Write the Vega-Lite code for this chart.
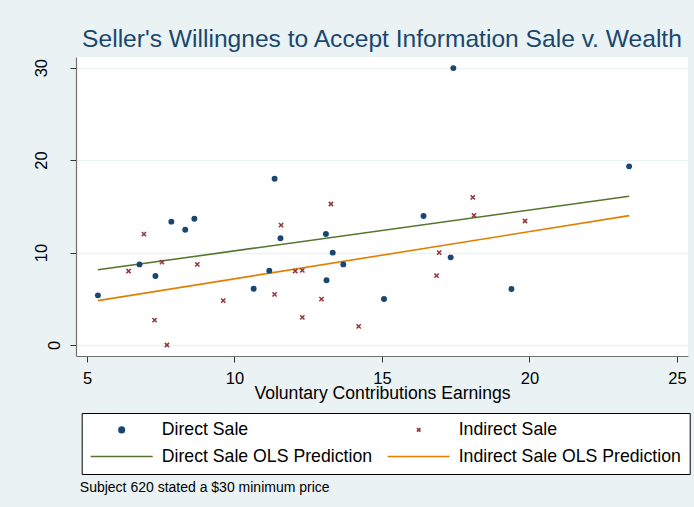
{
  "$schema": "https://vega.github.io/schema/vega-lite/v6.json",
  "width": 612,
  "height": 299,
  "autosize": {"type": "none"},
  "padding": {"left": 76, "top": 57, "right": 6, "bottom": 151},
  "background": "#eaf2f3",
  "view": {"fill": "white", "stroke": null},
  "title": {
    "text": "Seller's Willingnes to Accept Information Sale v. Wealth",
    "anchor": "middle",
    "frame": "group",
    "offset": 4,
    "font": "Liberation Sans",
    "fontSize": 24.6,
    "fontWeight": "normal",
    "color": "#1a476f"
  },
  "datasets": {
    "direct": [
      {"series": "Direct Sale", "x": 5.37, "y": 5.37},
      {"series": "Direct Sale", "x": 6.78, "y": 8.72},
      {"series": "Direct Sale", "x": 7.32, "y": 7.46},
      {"series": "Direct Sale", "x": 7.86, "y": 13.34},
      {"series": "Direct Sale", "x": 8.33, "y": 12.47},
      {"series": "Direct Sale", "x": 8.64, "y": 13.66},
      {"series": "Direct Sale", "x": 10.65, "y": 6.09},
      {"series": "Direct Sale", "x": 11.18, "y": 8.04},
      {"series": "Direct Sale", "x": 11.36, "y": 17.99},
      {"series": "Direct Sale", "x": 11.56, "y": 11.54},
      {"series": "Direct Sale", "x": 13.10, "y": 12.0},
      {"series": "Direct Sale", "x": 13.12, "y": 7.0},
      {"series": "Direct Sale", "x": 13.33, "y": 9.99},
      {"series": "Direct Sale", "x": 13.69, "y": 8.72},
      {"series": "Direct Sale", "x": 15.07, "y": 4.97},
      {"series": "Direct Sale", "x": 16.41, "y": 13.95},
      {"series": "Direct Sale", "x": 17.33, "y": 9.48},
      {"series": "Direct Sale", "x": 17.42, "y": 29.95},
      {"series": "Direct Sale", "x": 19.39, "y": 6.05},
      {"series": "Direct Sale", "x": 23.38, "y": 19.32}
    ],
    "indirect": [
      {"series": "Indirect Sale", "x": 6.41, "y": 8.0},
      {"series": "Indirect Sale", "x": 6.93, "y": 12.0},
      {"series": "Indirect Sale", "x": 7.29, "y": 2.7},
      {"series": "Indirect Sale", "x": 7.54, "y": 8.97},
      {"series": "Indirect Sale", "x": 7.71, "y": 0},
      {"series": "Indirect Sale", "x": 8.74, "y": 8.72},
      {"series": "Indirect Sale", "x": 9.62, "y": 4.8},
      {"series": "Indirect Sale", "x": 11.36, "y": 5.48},
      {"series": "Indirect Sale", "x": 11.58, "y": 12.97},
      {"series": "Indirect Sale", "x": 12.06, "y": 8.0},
      {"series": "Indirect Sale", "x": 12.30, "y": 8.08},
      {"series": "Indirect Sale", "x": 12.30, "y": 2.99},
      {"series": "Indirect Sale", "x": 12.95, "y": 4.97},
      {"series": "Indirect Sale", "x": 13.27, "y": 15.25},
      {"series": "Indirect Sale", "x": 14.21, "y": 2.02},
      {"series": "Indirect Sale", "x": 16.85, "y": 7.5},
      {"series": "Indirect Sale", "x": 16.94, "y": 9.99},
      {"series": "Indirect Sale", "x": 18.08, "y": 15.97},
      {"series": "Indirect Sale", "x": 18.12, "y": 14.02},
      {"series": "Indirect Sale", "x": 19.85, "y": 13.41}
    ],
    "ols": [
      {"series": "Direct Sale OLS Prediction", "x": 5.37, "y": 8.13},
      {"series": "Direct Sale OLS Prediction", "x": 23.38, "y": 16.09},
      {"series": "Indirect Sale OLS Prediction", "x": 5.37, "y": 4.80},
      {"series": "Indirect Sale OLS Prediction", "x": 23.38, "y": 13.99}
    ]
  },
  "resolve": {"scale": {"x": "shared"}, "axis": {"x": "independent"}},
  "layer": [
    {
      "data": {"name": "ols"},
      "mark": {"type": "line", "strokeWidth": 1.6},
      "encoding": {
        "x": {
          "field": "x", "type": "quantitative",
          "scale": {"domain": [4.627, 25.376], "nice": false, "zero": false},
          "axis": {
            "orient": "bottom",
            "labels": false, "ticks": false, "domain": false, "grid": false,
            "title": "Subject 620 stated a $30 minimum price",
            "titleX": 3.3, "titleY": 135.7,
            "titleAlign": "left", "titleBaseline": "alphabetic",
            "titleFont": "Liberation Sans", "titleFontSize": 14, "titleFontWeight": "normal", "titleColor": "#000"
          }
        },
        "y": {
          "field": "y", "type": "quantitative",
          "scale": {"domain": [-1.19, 31.15], "nice": false, "zero": false},
          "axis": {
            "values": [0, 10, 20, 30],
            "title": null,
            "grid": true, "gridColor": "#eaf2f3", "gridWidth": 1.5,
            "domainColor": "#707070", "domainWidth": 1.2,
            "tickColor": "#333", "tickSize": 6, "tickWidth": 1,
            "labelAngle": 270, "labelAlign": "center",
            "labelBaseline": {"condition": {"test": "datum.value == 0", "value": "top"}, "value": "alphabetic"},
            "labelPadding": 23.7,
            "labelFont": "Liberation Sans", "labelFontSize": 16.5, "labelColor": "#000"
          }
        },
        "color": {
          "field": "series", "type": "nominal",
          "scale": {
            "domain": ["Direct Sale", "Indirect Sale", "Direct Sale OLS Prediction", "Indirect Sale OLS Prediction"],
            "range": ["#1a476f", "#90353b", "#55752f", "#e37e00"]
          },
          "legend": {
            "orient": "none", "legendX": 5.7, "legendY": 356,
            "columns": 2, "title": null,
            "values": ["Direct Sale", "Direct Sale OLS Prediction", "Indirect Sale", "Indirect Sale OLS Prediction"],
            "padding": 8, "fillColor": "white", "strokeColor": "#000", "cornerRadius": 0,
            "symbolType": "stroke", "symbolSize": 3844, "symbolStrokeWidth": 1.6, "symbolOffset": 0,
            "labelOffset": 8, "labelFont": "Liberation Sans", "labelFontSize": 17.7, "labelColor": "#000", "labelLimit": 400,
            "columnPadding": 14, "rowPadding": 8, "clipHeight": 17,
            "encode": {
              "symbols": {
                "update": {
                  "shape": {"signal": "datum.value === 'Direct Sale' ? 'circle' : datum.value === 'Indirect Sale' ? 'M-1,-1L1,1M1,-1L-1,1' : 'stroke'"},
                  "size": {"signal": "datum.value === 'Direct Sale' ? 30 : datum.value === 'Indirect Sale' ? 12 : 3844"},
                  "fill": {"signal": "datum.value === 'Direct Sale' ? '#1a476f' : 'transparent'"},
                  "stroke": {"signal": "datum.value === 'Direct Sale' ? 'transparent' : datum.value === 'Indirect Sale' ? '#90353b' : datum.value === 'Direct Sale OLS Prediction' ? '#55752f' : '#e37e00'"},
                  "strokeWidth": {"value": 1.6},
                  "opacity": {"value": 1},
                  "fillOpacity": {"value": 1},
                  "strokeOpacity": {"value": 1}
                }
              }
            }
          }
        }
      }
    },
    {
      "data": {"name": "direct"},
      "mark": {"type": "point", "filled": true, "shape": "circle", "size": 35, "opacity": 1},
      "encoding": {
        "x": {
          "field": "x", "type": "quantitative",
          "axis": {
            "orient": "bottom",
            "values": [5, 10, 15, 20, 25],
            "grid": false,
            "domainColor": "#707070", "domainWidth": 1.2,
            "tickColor": "#333", "tickSize": 6, "tickWidth": 1,
            "labelPadding": 21.3, "labelBaseline": "alphabetic", "labelFlush": false,
            "labelFont": "Liberation Sans", "labelFontSize": 16.5, "labelColor": "#000",
            "title": "Voluntary Contributions Earnings",
            "titleFont": "Liberation Sans", "titleFontSize": 17.6, "titleFontWeight": "normal", "titleColor": "#000",
            "titleBaseline": "alphabetic", "titleY": 42.5
          }
        },
        "y": {"field": "y", "type": "quantitative"},
        "color": {"field": "series", "type": "nominal"}
      }
    },
    {
      "data": {"name": "indirect"},
      "mark": {"type": "point", "filled": false, "shape": "M-1,-1L1,1M1,-1L-1,1", "size": 18, "strokeWidth": 1.5, "opacity": 1},
      "encoding": {
        "x": {"field": "x", "type": "quantitative", "axis": null},
        "y": {"field": "y", "type": "quantitative"},
        "color": {"field": "series", "type": "nominal"}
      }
    }
  ]
}
